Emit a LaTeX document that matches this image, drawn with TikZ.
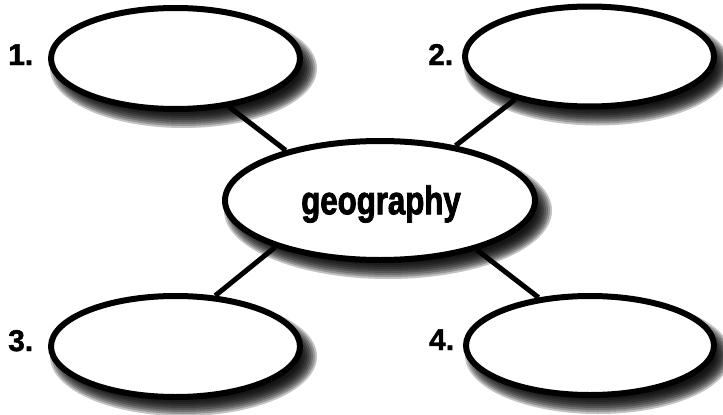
\documentclass[tikz,border=0pt]{standalone}
\usepackage{fontspec}
\setmainfont{Liberation Sans}
\newfontfamily\condfont[FakeStretch=0.78,FakeBold=2]{Liberation Sans}
\newfontfamily\numfont[FakeBold=1.5]{Liberation Sans}
\usetikzlibrary{shapes.geometric,backgrounds}
\newcommand\softshade[4]{%
  \foreach \k in {0,...,8}{%
    \fill[black,opacity=0.24] (#1+8,#2+10) ellipse [x radius={#3+9-2*\k}, y radius={#4+9-2*\k}];
  }%
}
\begin{document}
\begin{tikzpicture}[x=1pt,y=-1pt,
  bubble/.style={ellipse, draw=black, line width=6pt, fill=white, inner sep=0pt},
  link/.style={line width=5pt, black},
  num/.style={font=\numfont\fontsize{30}{30}\selectfont\bfseries, inner sep=0pt, anchor=base west},
  title/.style={font=\condfont\fontsize{40}{40}\selectfont\bfseries, inner sep=0pt}]
\useasboundingbox (0,0) rectangle (723,415);
\node[bubble, minimum width=249pt, minimum height=101pt] (e1) at (175.5,58.5) {};
\node[bubble, minimum width=249pt, minimum height=100pt] (e2) at (589.5,56.5) {};
\node[bubble, minimum width=310pt, minimum height=119pt] (c) at (380,200.5) {};
\node[bubble, minimum width=249pt, minimum height=101pt] (e3) at (175.5,346.5) {};
\node[bubble, minimum width=248pt, minimum height=99pt] (e4) at (590,345.5) {};
\node[title] (t) at (381,204) {geography};
\node[num] (n1) at (8,65) {1.};
\node[num] (n2) at (428,65) {2.};
\node[num] (n3) at (8,351) {3.};
\node[num] (n4) at (429,350) {4.};
\begin{scope}[on background layer]
  \softshade{175.5}{58.5}{124.5}{50.5}
  \softshade{589.5}{56.5}{124.5}{50}
  \softshade{380}{200.5}{155}{59.5}
  \softshade{175.5}{346.5}{124.5}{50.5}
  \softshade{590}{345.5}{124}{49.5}
  \draw[link] (e1.-42.3) -- (c.152.5);
  \draw[link] (e2.-150) -- (c.36.6);
  \draw[link] (c.204.5) -- (e3.52.8);
  \draw[link] (c.-27.8) -- (e4.137);
\end{scope}
\end{tikzpicture}
\end{document}
